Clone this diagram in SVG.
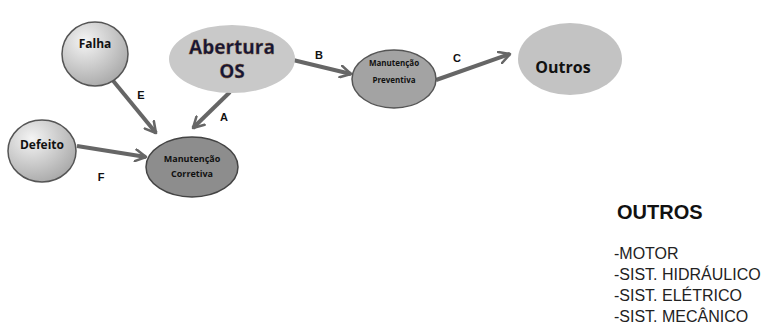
<svg xmlns="http://www.w3.org/2000/svg" width="764" height="325" viewBox="0 0 764 325">
<style>
.lbl{font-family:"Open Sans","Liberation Sans",sans-serif;font-weight:bold;fill:#111;text-anchor:middle}
.big{font-family:"Open Sans","Liberation Sans",sans-serif;font-weight:bold;fill:#14163a;text-anchor:middle;font-size:19px}
.edge{stroke:#666;stroke-width:4;fill:none}
.el{font-family:"Liberation Sans",Arial,sans-serif;font-weight:bold;font-size:11px;fill:#111;text-anchor:middle}
.list{font-family:"Liberation Sans",Arial,sans-serif;font-size:16px;fill:#222}
</style>
<defs>
<radialGradient id="lg" cx="35%" cy="30%" r="75%">
<stop offset="0" stop-color="#f4f4f4"/>
<stop offset="1" stop-color="#a9a9a9"/>
</radialGradient>
<marker id="ar" viewBox="0 0 12 12" refX="10" refY="6" markerWidth="14" markerHeight="14" markerUnits="userSpaceOnUse" orient="auto">
<path d="M1,1 L10,6 L1,11" fill="none" stroke="#666" stroke-width="2.2" stroke-linecap="round" stroke-linejoin="round"/>
</marker>
</defs>
<rect width="764" height="325" fill="#fff"/>
<g id="connectors">
<line class="edge" x1="110" y1="77" x2="156" y2="133" marker-end="url(#ar)"/>
<line class="edge" x1="230" y1="92" x2="193" y2="128" marker-end="url(#ar)"/>
<line class="edge" x1="77" y1="146" x2="146" y2="157" marker-end="url(#ar)"/>
<line class="edge" x1="293" y1="60" x2="351" y2="74" marker-end="url(#ar)"/>
<line class="edge" x1="436" y1="80" x2="510" y2="54" marker-end="url(#ar)"/>
<text class="el" x="141" y="99">E</text>
<text class="el" x="224" y="121">A</text>
<text class="el" x="101" y="181">F</text>
<text class="el" x="319" y="59">B</text>
<text class="el" x="457" y="62">C</text>
</g>
<g id="falha">
<ellipse cx="95" cy="54" rx="33" ry="32" fill="url(#lg)" stroke="#555" stroke-width="1.5"/>
<text class="lbl" x="95" y="48" font-size="12">Falha</text>
</g>
<g id="defeito">
<ellipse cx="42" cy="151" rx="34" ry="31" fill="url(#lg)" stroke="#555" stroke-width="1.5"/>
<text class="lbl" x="42" y="149" font-size="12">Defeito</text>
</g>
<g id="abertura">
<ellipse cx="232" cy="59" rx="63" ry="34" fill="#c9c9c9"/>
<text class="big" x="232" y="54" stroke="#8a5a20" stroke-width="0.3">Abertura</text>
<text class="big" x="232" y="78" stroke="#8a5a20" stroke-width="0.3">OS</text>
</g>
<g id="corretiva">
<ellipse cx="192" cy="167" rx="46" ry="30" fill="#8d8d8d" stroke="#444" stroke-width="1.5"/>
<text class="lbl" x="192" y="162" font-size="9">Manutenção</text>
<text class="lbl" x="192" y="177" font-size="9">Corretiva</text>
</g>
<g id="preventiva">
<ellipse cx="394" cy="79" rx="42" ry="29" fill="#a3a3a3" stroke="#555" stroke-width="1.5"/>
<text class="lbl" x="394" y="66" font-size="8">Manutenção</text>
<text class="lbl" x="394" y="83" font-size="8">Preventiva</text>
</g>
<g id="outros">
<ellipse cx="570" cy="59" rx="52" ry="36" fill="#c3c3c3"/>
<text class="lbl" x="563" y="73" font-size="16" fill="#111a33">Outros</text>
</g>
<g id="legend">
<text x="617" y="219" font-family="'Liberation Sans',Arial,sans-serif" font-weight="bold" font-size="20" fill="#111">OUTROS</text>
<text class="list" x="614" y="259">-MOTOR</text>
<text class="list" x="614" y="280">-SIST. HIDRÁULICO</text>
<text class="list" x="614" y="301">-SIST. ELÉTRICO</text>
<text class="list" x="614" y="322">-SIST. MECÂNICO</text>
</g>
</svg>
